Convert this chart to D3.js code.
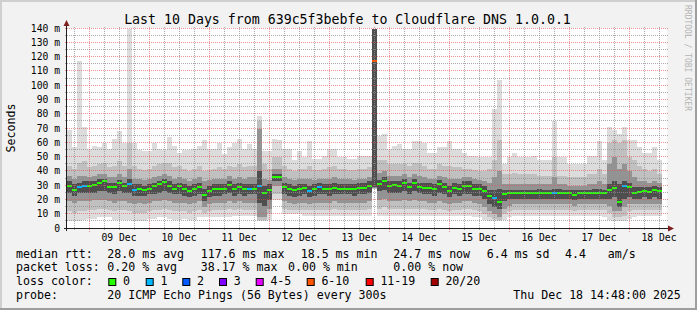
<!DOCTYPE html>
<html>
<head>
<meta charset="utf-8">
<script src="https://cdn.jsdelivr.net/npm/d3@7"></script>
<style>
  body { margin: 0; background: #f2f2f2; }
  svg { display: block; font-family: "DejaVu Sans Mono", monospace; }
  text { white-space: pre; }
</style>
</head>
<body>
<script>
// 2-hour bins, Dec 8 15:12 -> Dec 18 ~13:00 (ms)
const median = [
  30, 27, 29.3, 30, 30, 30.5, 32, 33, 29.3, 29,
  31.6, 29.5, 31.5, 27, 27.5, 27, 28, 29.5, 31, 32.5,
  30, 28, 29.5, 27.5, 26.5, 28, 29.3, 23.5, 26.5, 27.4,
  27.4, 28, 30.5, 27.5, 29, 27.5, 28, 28, 30, 25,
  27, 36.2, 36.2, 29, 28, 27, 28, 28.5, 26.5, 27.5,
  29, 28, 27.4, 28.5, 28, 28, 28, 27.4, 28.6, 28.6,
  29.5, 117.6, 31.5, 33.3, 29.5, 30.4, 30, 32, 29, 32.2,
  29.3, 28.6, 28.6, 27.4, 31, 29.3, 26, 28.6, 27.5, 29.8,
  29.8, 28, 28, 26.4, 22.6, 21.5, 18.5, 24, 24.7, 25,
  24.7, 25, 24.7, 24.7, 25.2, 24.7, 24.7, 24.7, 25, 24.7,
  24.7, 23.8, 24.7, 24.7, 24.7, 25, 24.7, 24.7, 27, 28.6,
  18.6, 29.8, 29.4, 25, 25.8, 26.4, 25.8, 27, 26
]
// lost pings out of 20
const loss = [
  0, 0, 1, 1, 0, 0, 0, 0, 0, 0,
  0, 0, 1, 1, 0, 0, 0, 0, 0, 0,
  0, 0, 0, 0, 0, 0, 0, 0, 0, 0,
  0, 0, 0, 0, 0, 0, 1, 0, 1, 0,
  0, 0, 0, 0, 0, 0, 0, 0, 1, 0,
  1, 0, 0, 0, 0, 0, 0, 0, 0, 0,
  0, 8, 0, 0, 0, 0, 0, 0, 0, 0,
  0, 0, 0, 0, 0, 0, 0, 0, 0, 0,
  0, 0, 0, 0, 0, 1, 0, 0, 0, 0,
  0, 0, 0, 0, 0, 0, 0, 1, 0, 0,
  0, 0, 0, 0, 0, 0, 0, 0, 0, 0,
  0, 1, 0, 0, 0, 0, 0, 0, 0
]
// smoke: sorted ping spread (outer -> inner)
const maxv = [
  69, 57, 117, 71, 56, 58, 57, 60, 56, 63,
  68, 60, 140, 60, 55, 54, 54, 60, 56, 55,
  64, 58, 53, 55, 55, 56, 58, 62, 56, 56,
  60, 52, 57, 60, 63, 56, 59, 56, 79, 54,
  54, 63, 62, 56, 56, 48, 54, 50, 61, 49,
  49, 51, 56, 56, 50, 50, 49, 49, 51, 51,
  51, 140, 65, 66, 56, 58, 59, 56, 56, 61,
  61, 60, 53, 53, 57, 57, 61, 56, 56, 53,
  51, 51, 50, 50, 50, 84, 104, 45, 50, 53,
  50, 50, 50, 51, 48, 48, 48, 75, 50, 50,
  45, 45, 45, 45, 51, 51, 61, 48, 71, 69,
  66, 71, 62, 62, 57, 53, 53, 57, 48
]
const hi2 = [
  44, 42, 46, 47, 43, 44, 45, 46, 43, 44,
  47, 44, 60, 44, 42, 41, 42, 44, 45, 46,
  46, 43, 44, 42, 40, 42, 44, 40, 41, 42,
  43, 42, 44, 43, 45, 43, 44, 44, 75, 45,
  42, 50, 50, 44, 42, 40, 42, 42, 44, 41,
  41, 42, 43, 44, 42, 42, 41, 41, 42, 42,
  43, 140, 48, 48, 45, 45, 45, 45, 44, 46,
  46, 44, 42, 42, 45, 44, 44, 43, 43, 42,
  42, 41, 40, 40, 42, 48, 62, 38, 38, 39,
  38, 38, 38, 38, 37, 37, 37, 50, 37, 37,
  36, 36, 36, 36, 38, 38, 42, 38, 60, 62,
  60, 62, 50, 48, 44, 42, 40, 42, 38
]
const hi1 = [
  37, 35, 37, 37, 36, 37, 38, 38, 36, 36,
  38, 36, 42, 35, 35, 34, 35, 36, 37, 38,
  37, 35, 36, 35, 33, 35, 36, 33, 34, 35,
  35, 35, 37, 35, 36, 35, 36, 36, 70, 35,
  34, 42, 42, 36, 35, 34, 35, 35, 35, 34,
  35, 35, 35, 36, 35, 35, 35, 34, 35, 35,
  36, 140, 39, 40, 37, 37, 37, 38, 36, 38,
  37, 36, 35, 35, 37, 36, 35, 35, 35, 36,
  36, 35, 34, 33, 32, 36, 40, 31, 31, 31,
  31, 31, 31, 31, 31, 31, 31, 36, 31, 31,
  30, 30, 30, 30, 31, 31, 33, 31, 45, 50,
  42, 45, 40, 36, 33, 33, 32, 33, 32
]
const hc = [
  33, 31, 32, 33, 33, 33, 35, 35, 32, 32,
  34, 32, 35, 31, 31, 30, 31, 32, 33, 35,
  33, 31, 32, 31, 30, 31, 32, 28, 30, 31,
  31, 31, 33, 31, 32, 31, 31, 31, 40, 30,
  31, 38, 38, 32, 31, 30, 31, 31, 30, 31,
  32, 31, 31, 32, 31, 31, 31, 31, 32, 32,
  33, 140, 34, 36, 33, 33, 33, 35, 32, 35,
  32, 32, 32, 31, 34, 32, 30, 32, 31, 33,
  33, 31, 31, 30, 27, 27, 28, 27, 27, 27,
  27, 27, 27, 27, 28, 27, 27, 28, 28, 27,
  27, 27, 27, 27, 27, 28, 28, 27, 31, 33,
  31, 33, 32, 29, 29, 29, 29, 30, 29
]
const lc = [
  25, 23, 25, 25, 25, 25, 26, 26, 25, 24,
  26, 25, 25, 23, 23, 23, 24, 24, 25, 26,
  25, 24, 24, 23, 22, 23, 24, 19, 22, 23,
  23, 24, 25, 23, 24, 23, 24, 24, 18, 16,
  20, 33, 33, 24, 23, 22, 23, 24, 22, 23,
  24, 24, 23, 24, 24, 24, 24, 23, 24, 24,
  25, 29, 26, 27, 25, 25, 25, 26, 24, 26,
  25, 24, 24, 23, 25, 24, 22, 24, 23, 24,
  24, 23, 23, 21, 17, 15, 14, 19, 21, 21,
  21, 21, 21, 21, 21, 21, 21, 21, 21, 21,
  21, 20, 21, 21, 21, 21, 21, 21, 21, 22,
  15, 21, 22, 21, 21, 22, 21, 22, 21
]
const lo1 = [
  19, 18, 19, 19, 19, 20, 20, 20, 19, 18,
  19, 19, 18, 17, 18, 17, 18, 19, 19, 20,
  19, 18, 18, 18, 17, 18, 19, 15, 17, 18,
  18, 18, 19, 18, 19, 18, 18, 18, 8, 8,
  14, 30, 30, 19, 18, 17, 18, 18, 17, 18,
  18, 18, 18, 19, 18, 18, 18, 18, 18, 18,
  19, 28.5, 20, 21, 19, 19, 19, 20, 19, 20,
  19, 19, 18, 18, 19, 18, 17, 18, 18, 19,
  19, 18, 17, 15, 12, 10, 8, 14, 16, 17,
  17, 17, 17, 17, 17, 17, 17, 17, 17, 17,
  17, 16, 17, 17, 17, 17, 17, 17, 16, 12,
  12, 15, 17, 17, 17, 17, 17, 17, 17
]
const lo2 = [
  12, 11, 12, 12, 13, 13, 14, 14, 13, 12,
  13, 13, 12, 11, 11, 11, 12, 13, 13, 14,
  13, 12, 12, 12, 11, 12, 13, 11, 12, 13,
  13, 13, 14, 13, 14, 13, 13, 13, 6, 6,
  10, 24, 24, 14, 13, 13, 13, 13, 13, 13,
  13, 13, 13, 14, 13, 13, 13, 13, 13, 13,
  14, 28, 14, 15, 14, 14, 14, 14, 14, 14,
  14, 14, 13, 13, 14, 13, 12, 13, 13, 14,
  14, 13, 12, 10, 8, 7, 6, 10, 12, 13,
  13, 13, 13, 13, 13, 13, 13, 13, 13, 13,
  13, 12, 13, 13, 13, 13, 13, 13, 11, 8,
  8, 9, 12, 13, 13, 13, 13, 13, 13
]
const minv = [
  5, 5, 5, 6, 7, 7, 8, 8, 8, 6,
  6, 6, 6, 5, 5, 5, 7, 7, 8, 8,
  7, 6, 6, 7, 6, 6, 8, 8, 8, 8,
  8, 8, 8, 9, 9, 9, 9, 9, 5, 5,
  6, 20, 20, 10, 10, 10, 10, 9, 9, 9,
  9, 9, 9, 9, 9, 9, 9, 9, 9, 9,
  9, 28, 9, 9, 9, 9, 9, 9, 9, 9,
  9, 9, 9, 9, 9, 9, 9, 9, 9, 9,
  9, 8, 8, 6, 5, 5, 5, 6, 8, 9,
  9, 9, 9, 9, 9, 9, 9, 9, 9, 9,
  9, 9, 9, 9, 9, 9, 9, 8, 6, 5,
  5, 5, 7, 8, 9, 9, 9, 9, 9
]

const yTicks = [0, 10, 20, 30, 40, 50, 60, 70, 80, 90, 100, 110, 120, 130, 140]
const lossLabels = ['0', '1', '2', '3', '4-5', '6-10', '11-19', '20/20']
const lossColors = ['#26ff00', '#00b8ff', '#0059ff', '#7e00ff', '#e600ff', '#ff5500', '#ff0000', '#a10000']
const lossLimits = [0, 1, 2, 3, 5, 10, 19, 20]

const legendRtt = [
  ['median rtt:', 16], ['28.0 ms avg', 107.3], ['117.6 ms max', 200.7], ['18.5 ms min', 300.7],
  ['24.7 ms now', 393.3], ['6.4 ms sd', 486.7], ['4.4', 565], ['am/s', 607.7]
]
const legendLoss = [
  ['packet loss:', 16], ['0.20 % avg', 107.3], ['38.17 % max', 200.7], ['0.00 % min', 288], ['0.00 % now', 393.3]
]
const lossBoxX = [108.3, 145.7, 182.3, 219, 255.7, 306.7, 365.7, 430.7]

const width = 697
const height = 310
const plot = { left: 67, right: 667, top: 28.5, bottom: 228.5 }

const start = new Date(2025, 11, 8, 15, 12)
const end = new Date(2025, 11, 18, 15, 12)
const step = 2 * 3600 * 1000
const times = median.map((d, i) => new Date(+start + i * step))

const x = d3.scaleTime().domain([start, end]).range([plot.left, plot.right])
const y = d3.scaleLinear().domain([0, 140]).range([plot.bottom, plot.top])

const svg = d3.select('body').append('svg')
  .attr('width', width)
  .attr('height', height)

// frame
svg.append('rect').attr('width', width).attr('height', height).attr('fill', '#f2f2f2')
svg.append('path').attr('d', `M0,${height} V0 H${width}`).attr('fill', 'none')
  .attr('stroke', '#cfcfcf').attr('stroke-width', 4)
svg.append('path').attr('d', `M0,${height} H${width} V0`).attr('fill', 'none')
  .attr('stroke', '#9e9e9e').attr('stroke-width', 4)

svg.append('rect')
  .attr('x', plot.left).attr('y', plot.top - 0.5)
  .attr('width', plot.right - plot.left).attr('height', plot.bottom - plot.top + 0.5)
  .attr('fill', '#ffffff')

// ── Smoke ─────────────────────────────────────────────
const bands = [
  { lo: minv, hi: maxv, color: '#dcdcdc' },
  { lo: lo2, hi: hi2, color: '#c0c0c0' },
  { lo: lo1, hi: hi1, color: '#939393' },
  { lo: lc, hi: hc, color: '#4e4e4e' }
]
const smoke = svg.append('g').attr('shape-rendering', 'crispEdges')
bands.forEach(b => {
  smoke.append('g').selectAll('rect')
    .data(times)
    .join('rect')
    .attr('x', d => x(d))
    .attr('width', d => x(new Date(+d + step)) - x(d))
    .attr('y', (d, i) => y(Math.min(140, b.hi[i])))
    .attr('height', (d, i) => y(b.lo[i]) - y(Math.min(140, b.hi[i])))
    .attr('fill', b.color)
})

// median, coloured by loss
const lossColor = l => lossColors[lossLimits.findIndex(v => l <= v)]
svg.append('g').attr('shape-rendering', 'crispEdges')
  .selectAll('rect')
  .data(times)
  .join('rect')
  .attr('x', d => x(d))
  .attr('width', d => x(new Date(+d + step)) - x(d))
  .attr('y', (d, i) => Math.round(y(median[i])) - 1)
  .attr('height', 2)
  .attr('fill', (d, i) => lossColor(loss[i]))

// ── Grid ──────────────────────────────────────────────
const grid = svg.append('g').attr('shape-rendering', 'crispEdges')
const days = d3.timeDay.range(d3.timeDay.ceil(start), end)
const hours = d3.timeHour.every(6).range(start, end).filter(d => d.getHours() !== 0)
const px = v => Math.round(v) + 0.5

grid.selectAll('.vminor').data(hours).join('line')
  .attr('x1', d => px(x(d))).attr('x2', d => px(x(d)))
  .attr('y1', plot.top - 2).attr('y2', plot.bottom + 2)
  .attr('stroke', 'rgba(143,143,143,0.75)').attr('stroke-dasharray', '1,1')
grid.selectAll('.hminor').data(yTicks.slice(0, -1).map(d => d + 5)).join('line')
  .attr('x1', plot.left - 2).attr('x2', plot.right + 2)
  .attr('y1', d => px(y(d)) - 1).attr('y2', d => px(y(d)) - 1)
  .attr('stroke', 'rgba(143,143,143,0.75)').attr('stroke-dasharray', '1,1')
grid.selectAll('.vmajor').data(days).join('line')
  .attr('x1', d => px(x(d))).attr('x2', d => px(x(d)))
  .attr('y1', plot.top - 2).attr('y2', plot.bottom + 3)
  .attr('stroke', 'rgba(222,79,79,0.6)').attr('stroke-dasharray', '1,1')
grid.selectAll('.hmajor').data(yTicks.slice(1)).join('line')
  .attr('x1', plot.left - 2).attr('x2', plot.right + 2)
  .attr('y1', d => px(y(d)) - 1).attr('y2', d => px(y(d)) - 1)
  .attr('stroke', 'rgba(222,79,79,0.6)').attr('stroke-dasharray', '1,1')

// ── Axes ──────────────────────────────────────────────
svg.append('line')
  .attr('x1', plot.left - 3).attr('x2', plot.right + 2)
  .attr('y1', 228.5).attr('y2', 228.5)
  .attr('stroke', '#1f1f1f')
svg.append('line')
  .attr('x1', 66.5).attr('x2', 66.5)
  .attr('y1', 231).attr('y2', 25)
  .attr('stroke', '#1f1f1f')
svg.append('path').attr('d', 'M668,225.5 L674,228.5 L668,231.5 Z').attr('fill', '#801f1f')
svg.append('path').attr('d', 'M63.5,26 L66.5,20 L69.5,26 Z').attr('fill', '#801f1f')

svg.append('g').selectAll('text')
  .data(yTicks)
  .join('text')
  .attr('x', 60)
  .attr('y', d => y(d) + 3)
  .attr('text-anchor', 'end')
  .style('font-size', '9.7px')
  .text(d => d === 0 ? '0' : d + ' m')

svg.append('g').selectAll('text')
  .data(days)
  .join('text')
  .attr('x', d => x(d3.timeHour.offset(d, 12)))
  .attr('y', 241)
  .attr('text-anchor', 'middle')
  .style('font-size', '9.7px')
  .text(d => d3.timeFormat('%d %b')(d))

// ── Titles ────────────────────────────────────────────
svg.append('text')
  .attr('x', 347.5).attr('y', 24)
  .attr('text-anchor', 'middle')
  .style('font-size', '13.25px')
  .text('Last 10 Days from 639c5f3bebfe to Cloudflare DNS 1.0.0.1')

svg.append('text')
  .attr('transform', 'translate(15,128) rotate(-90)')
  .attr('text-anchor', 'middle')
  .style('font-size', '11.6px')
  .text('Seconds')

svg.append('text')
  .attr('transform', 'translate(684.5,5) rotate(90)')
  .style('font-size', '8px')
  .attr('fill', '#b4b4b4')
  .text('RRDTOOL / TOBI OETIKER')

// ── Legend ────────────────────────────────────────────
const legend = svg.append('g').style('font-size', '11.6px')
legendRtt.forEach(([t, lx]) => legend.append('text').attr('x', lx).attr('y', 257.5).text(t))
legendLoss.forEach(([t, lx]) => legend.append('text').attr('x', lx).attr('y', 271.4).text(t))
legend.append('text').attr('x', 16).attr('y', 285.3).text('loss color:')
legend.selectAll('rect')
  .data(lossLabels)
  .join('rect')
  .attr('x', (d, i) => lossBoxX[i] + 0.5)
  .attr('y', 278.5)
  .attr('width', 7).attr('height', 7)
  .attr('fill', (d, i) => lossColors[i])
  .attr('stroke', '#000')
legend.selectAll('.ll')
  .data(lossLabels)
  .join('text')
  .attr('x', (d, i) => lossBoxX[i] + 14.7)
  .attr('y', 285.3)
  .text(d => d)
legend.append('text').attr('x', 16).attr('y', 299.2).text('probe:')
legend.append('text').attr('x', 107.3).attr('y', 299.2).text('20 ICMP Echo Pings (56 Bytes) every 300s')
legend.append('text').attr('x', 513.3).attr('y', 299.2).text('Thu Dec 18 14:48:00 2025')
</script>
</body>
</html>
